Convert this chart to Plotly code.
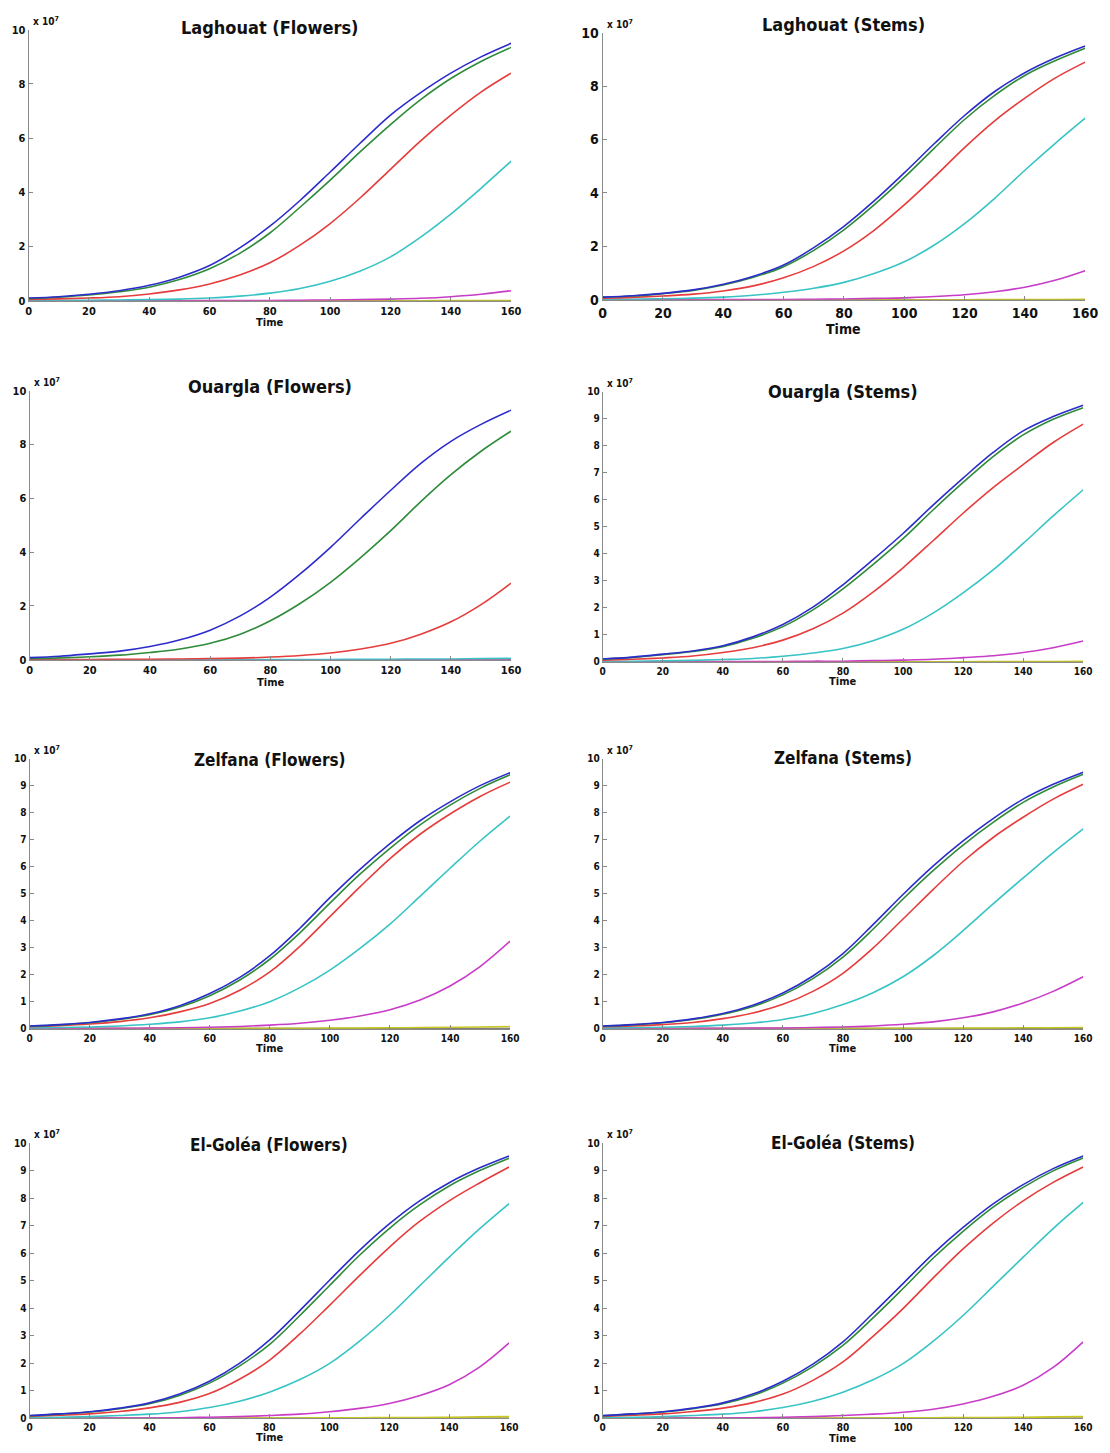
import plotly.graph_objects as go

W, H = 1110, 1453
T = [0, 10, 20, 30, 40, 50, 60, 70, 80, 90, 100, 110, 120, 130, 140, 150, 160]

# values in units of 1e7
LF_BLUE = [0.10,0.15,0.24,0.37,0.57,0.87,1.30,1.95,2.75,3.70,4.75,5.82,6.85,7.68,8.40,9.00,9.50]
LF_GREEN = [0.08,0.13,0.21,0.33,0.50,0.78,1.18,1.75,2.50,3.45,4.45,5.50,6.50,7.42,8.20,8.83,9.35]
LF_RED = [0.05,0.07,0.10,0.15,0.25,0.40,0.62,0.95,1.40,2.05,2.85,3.80,4.85,5.90,6.85,7.70,8.40]
LF_CYAN = [0.01,0.01,0.02,0.03,0.04,0.06,0.10,0.17,0.28,0.45,0.72,1.10,1.62,2.35,3.20,4.15,5.15]
LF_MAGENTA = [0,0,0,0,0,0,0.01,0.01,0.01,0.02,0.03,0.04,0.06,0.09,0.15,0.24,0.37]
LF_YELLOW = [0,0,0,0,0,0,0,0,0,0,0,0,0,0,0.01,0.01,0.01]
LF_BLACK = [0]*17

LS_BLUE = [0.10,0.15,0.24,0.37,0.58,0.88,1.30,1.95,2.75,3.70,4.75,5.85,6.90,7.80,8.50,9.05,9.50]
LS_GREEN = [0.09,0.14,0.23,0.35,0.55,0.84,1.24,1.85,2.62,3.55,4.58,5.68,6.75,7.65,8.40,8.95,9.42]
LS_RED = [0.06,0.09,0.14,0.21,0.33,0.52,0.82,1.25,1.83,2.60,3.55,4.60,5.70,6.70,7.55,8.30,8.90]
LS_CYAN = [0.01,0.02,0.04,0.06,0.10,0.17,0.28,0.43,0.65,0.98,1.42,2.05,2.85,3.80,4.85,5.85,6.80]
LS_MAGENTA = [0,0,0,0,0.01,0.01,0.01,0.02,0.03,0.05,0.07,0.12,0.19,0.30,0.47,0.73,1.09]
LS_YELLOW = [0,0,0,0,0,0,0,0,0,0,0,0,0,0.01,0.01,0.01,0.02]
LS_BLACK = [0]*17

OF_BLUE = [0.08,0.13,0.22,0.32,0.49,0.74,1.10,1.63,2.33,3.20,4.18,5.25,6.30,7.30,8.12,8.75,9.28]
OF_GREEN = [0.05,0.07,0.11,0.17,0.27,0.40,0.61,0.95,1.45,2.10,2.88,3.80,4.80,5.88,6.88,7.75,8.50]
OF_RED = [0.01,0.01,0.01,0.02,0.02,0.03,0.04,0.06,0.10,0.16,0.25,0.40,0.61,0.95,1.41,2.05,2.85]
OF_CYAN = [0,0,0,0,0,0,0,0.01,0.01,0.01,0.01,0.02,0.02,0.03,0.03,0.04,0.05]
OF_MAGENTA = [0]*17
OF_YELLOW = [0]*17
OF_BLACK = [0]*17

OS_BLUE = [0.10,0.17,0.28,0.40,0.59,0.92,1.38,2.02,2.85,3.78,4.75,5.80,6.80,7.75,8.55,9.08,9.50]
OS_GREEN = [0.09,0.16,0.26,0.38,0.56,0.87,1.30,1.92,2.70,3.60,4.56,5.62,6.64,7.60,8.40,8.98,9.41]
OS_RED = [0.06,0.09,0.14,0.21,0.34,0.52,0.80,1.22,1.80,2.58,3.48,4.48,5.50,6.45,7.30,8.12,8.80]
OS_CYAN = [0.01,0.02,0.03,0.05,0.08,0.12,0.20,0.32,0.49,0.78,1.20,1.80,2.55,3.40,4.38,5.40,6.37]
OS_MAGENTA = [0,0,0,0,0.01,0.01,0.01,0.02,0.02,0.04,0.06,0.09,0.15,0.22,0.34,0.52,0.77]
OS_YELLOW = [0,0,0,0,0,0,0,0,0,0,0,0,0,0.01,0.01,0.01,0.02]
OS_BLACK = [0]*17

ZF_BLUE = [0.10,0.15,0.23,0.36,0.55,0.85,1.30,1.90,2.70,3.72,4.85,5.90,6.85,7.70,8.40,9.00,9.48]
ZF_GREEN = [0.09,0.14,0.22,0.34,0.52,0.80,1.22,1.80,2.57,3.55,4.65,5.72,6.68,7.55,8.28,8.90,9.40]
ZF_RED = [0.07,0.11,0.17,0.26,0.40,0.62,0.93,1.42,2.10,3.05,4.15,5.25,6.30,7.20,7.95,8.60,9.13]
ZF_CYAN = [0.02,0.04,0.06,0.10,0.16,0.25,0.40,0.65,1.00,1.52,2.17,2.97,3.87,4.90,5.94,6.95,7.87]
ZF_MAGENTA = [0,0,0.01,0.01,0.02,0.03,0.05,0.08,0.13,0.20,0.31,0.47,0.70,1.06,1.58,2.30,3.24]
ZF_YELLOW = [0,0,0,0,0,0,0,0.01,0.01,0.01,0.02,0.02,0.03,0.04,0.05,0.06,0.08]
ZF_BLACK = [0]*17

ZS_BLUE = [0.10,0.15,0.23,0.36,0.56,0.87,1.32,1.95,2.78,3.85,4.97,6.02,6.95,7.78,8.50,9.05,9.50]
ZS_GREEN = [0.09,0.14,0.22,0.34,0.53,0.82,1.25,1.85,2.65,3.68,4.80,5.85,6.80,7.64,8.38,8.95,9.42]
ZS_RED = [0.07,0.10,0.15,0.23,0.37,0.58,0.90,1.38,2.05,2.98,4.06,5.15,6.19,7.08,7.83,8.50,9.05]
ZS_CYAN = [0.02,0.03,0.05,0.08,0.13,0.21,0.34,0.56,0.89,1.33,1.92,2.70,3.63,4.62,5.58,6.52,7.40]
ZS_MAGENTA = [0,0,0,0.01,0.01,0.02,0.02,0.04,0.06,0.10,0.16,0.25,0.40,0.62,0.95,1.38,1.92]
ZS_YELLOW = [0,0,0,0,0,0,0,0,0.01,0.01,0.01,0.01,0.02,0.02,0.03,0.03,0.04]
ZS_BLACK = [0]*17

EF_BLUE = [0.10,0.16,0.24,0.37,0.56,0.88,1.35,2.00,2.84,3.90,5.01,6.10,7.07,7.90,8.57,9.10,9.54]
EF_GREEN = [0.09,0.15,0.23,0.35,0.53,0.83,1.28,1.90,2.68,3.72,4.82,5.92,6.90,7.75,8.45,9.00,9.46]
EF_RED = [0.07,0.11,0.16,0.25,0.38,0.58,0.90,1.42,2.11,3.05,4.10,5.18,6.22,7.15,7.91,8.55,9.14]
EF_CYAN = [0.02,0.04,0.06,0.10,0.15,0.24,0.39,0.62,0.95,1.40,1.99,2.80,3.74,4.80,5.86,6.88,7.81]
EF_MAGENTA = [0,0,0,0.01,0.01,0.02,0.04,0.06,0.10,0.15,0.24,0.36,0.54,0.82,1.22,1.85,2.74]
EF_YELLOW = [0,0,0,0,0,0,0,0.01,0.01,0.01,0.02,0.02,0.03,0.03,0.04,0.05,0.06]
EF_BLACK = [0]*17

ES_BLUE = [0.10,0.16,0.24,0.37,0.56,0.88,1.35,1.97,2.78,3.82,4.90,5.98,6.94,7.80,8.50,9.08,9.54]
ES_GREEN = [0.09,0.15,0.23,0.35,0.53,0.83,1.28,1.88,2.65,3.65,4.72,5.82,6.80,7.68,8.40,9.00,9.47]
ES_RED = [0.07,0.11,0.16,0.25,0.37,0.57,0.88,1.38,2.05,2.98,3.99,5.10,6.16,7.10,7.91,8.58,9.14]
ES_CYAN = [0.02,0.04,0.06,0.10,0.15,0.24,0.39,0.62,0.95,1.40,1.99,2.80,3.74,4.80,5.86,6.90,7.85]
ES_MAGENTA = [0,0,0,0.01,0.01,0.02,0.04,0.06,0.10,0.15,0.22,0.33,0.52,0.80,1.20,1.85,2.78]
ES_YELLOW = [0,0,0,0,0,0,0,0.01,0.01,0.01,0.02,0.02,0.03,0.03,0.04,0.05,0.06]
ES_BLACK = [0]*17

TITLES = ["Laghouat (Flowers)", "Laghouat (Stems)", "Ouargla (Flowers)", "Ouargla (Stems)",
          "Zelfana (Flowers)", "Zelfana (Stems)", "El-Goléa (Flowers)", "El-Goléa (Stems)"]

PANELS = [
    [LF_BLACK, LF_YELLOW, LF_MAGENTA, LF_CYAN, LF_RED, LF_GREEN, LF_BLUE],
    [LS_BLACK, LS_YELLOW, LS_MAGENTA, LS_CYAN, LS_RED, LS_GREEN, LS_BLUE],
    [OF_BLACK, OF_YELLOW, OF_MAGENTA, OF_CYAN, OF_RED, OF_GREEN, OF_BLUE],
    [OS_BLACK, OS_YELLOW, OS_MAGENTA, OS_CYAN, OS_RED, OS_GREEN, OS_BLUE],
    [ZF_BLACK, ZF_YELLOW, ZF_MAGENTA, ZF_CYAN, ZF_RED, ZF_GREEN, ZF_BLUE],
    [ZS_BLACK, ZS_YELLOW, ZS_MAGENTA, ZS_CYAN, ZS_RED, ZS_GREEN, ZS_BLUE],
    [EF_BLACK, EF_YELLOW, EF_MAGENTA, EF_CYAN, EF_RED, EF_GREEN, EF_BLUE],
    [ES_BLACK, ES_YELLOW, ES_MAGENTA, ES_CYAN, ES_RED, ES_GREEN, ES_BLUE],
]
SERIES_NAMES = ["black", "yellow", "magenta", "cyan", "red", "green", "blue"]
COLORS = ["#555555", "#c8c820", "#c83cc8", "#38c4c4", "#e63c3c", "#2e8b3a", "#2c2ccc"]

# plot box in pixels: (left, right, top, bottom)
BOXES = [
    (25, 515, 22, 296), (608, 1098, 25, 295),
    (26, 515, 387, 659), (608, 1096, 388, 661),
    (26, 514, 759, 1032), (608, 1096, 759, 1032),
    (26, 513, 1148, 1426), (608, 1096, 1148, 1426),
]
TITLE_Y = [20, 17, 383, 388, 760, 758, 1150, 1148]
TITLE_SIZE = [18, 18, 18, 18, 17, 17, 17, 17]
TIME_Y = [318, 325, 682, 681, 1052, 1052, 1445, 1446]
YSTEP = [2, 2, 2, 1, 1, 1, 1, 1]
TICKSIZE = [11, 14, 11, 10, 10, 10, 10, 10]
TIMESIZE = [11, 14, 11, 11, 11, 11, 11, 11]

FONT = "DejaVu Sans Condensed, Liberation Sans Narrow, Arial Narrow, Liberation Sans, Arial, sans-serif"

def px(x):
    return x / W

def py(y):
    return 1 - y / H

fig = go.Figure()
layout = dict(width=W, height=H, margin=dict(l=0, r=0, t=0, b=0),
              paper_bgcolor="white", plot_bgcolor="white", showlegend=False)
annotations = []

for i, (series, box) in enumerate(zip(PANELS, BOXES)):
    k = i + 1
    xa = "x" if k == 1 else f"x{k}"
    ya = "y" if k == 1 else f"y{k}"
    for name, vals, col in zip(SERIES_NAMES, series, COLORS):
        fig.add_trace(go.Scatter(x=T, y=vals, mode="lines", name=name,
                                 line=dict(color=col, width=1.6, shape="spline", smoothing=1.0),
                                 xaxis=xa, yaxis=ya, cliponaxis=False))
    l, r, t, b = box
    tickfont = dict(family=FONT, size=TICKSIZE[i], color="#111111", weight="bold")
    layout["xaxis" if k == 1 else f"xaxis{k}"] = dict(
        domain=[px(l), px(r)], range=[0, 160], anchor=ya,
        tickvals=list(range(0, 161, 20)), ticks="inside", ticklen=4, tickcolor="#888888",
        showline=True, linecolor="#8a8a8a", linewidth=1, showgrid=False, zeroline=False,
        tickfont=tickfont, ticklabelstandoff=0)
    layout["yaxis" if k == 1 else f"yaxis{k}"] = dict(
        domain=[py(b), py(t)], range=[0, 10], anchor=xa,
        tickvals=list(range(0, 11, YSTEP[i])), ticks="inside", ticklen=4, tickcolor="#888888",
        showline=True, linecolor="#8a8a8a", linewidth=1, showgrid=False, zeroline=False,
        tickfont=tickfont, ticklabelstandoff=0)
    cx = (l + r) / 2
    annotations.append(dict(text=TITLES[i], x=px(cx), y=py(TITLE_Y[i]), xref="paper", yref="paper",
                            xanchor="center", yanchor="middle", showarrow=False,
                            font=dict(family=FONT, size=TITLE_SIZE[i], color="#111111", weight="bold")))
    annotations.append(dict(text="Time", x=px(cx), y=py(TIME_Y[i]), xref="paper", yref="paper",
                            xanchor="center", yanchor="middle", showarrow=False,
                            font=dict(family=FONT, size=TIMESIZE[i], color="#111111", weight="bold")))
    annotations.append(dict(text="x 10<sup>7</sup>", x=px(l + 2), y=py(t - 1), xref="paper", yref="paper",
                            xanchor="left", yanchor="bottom", showarrow=False,
                            font=dict(family=FONT, size=10, color="#111111", weight="bold")))

layout["annotations"] = annotations
fig.update_layout(**layout)
fig.write_html("out.html")
